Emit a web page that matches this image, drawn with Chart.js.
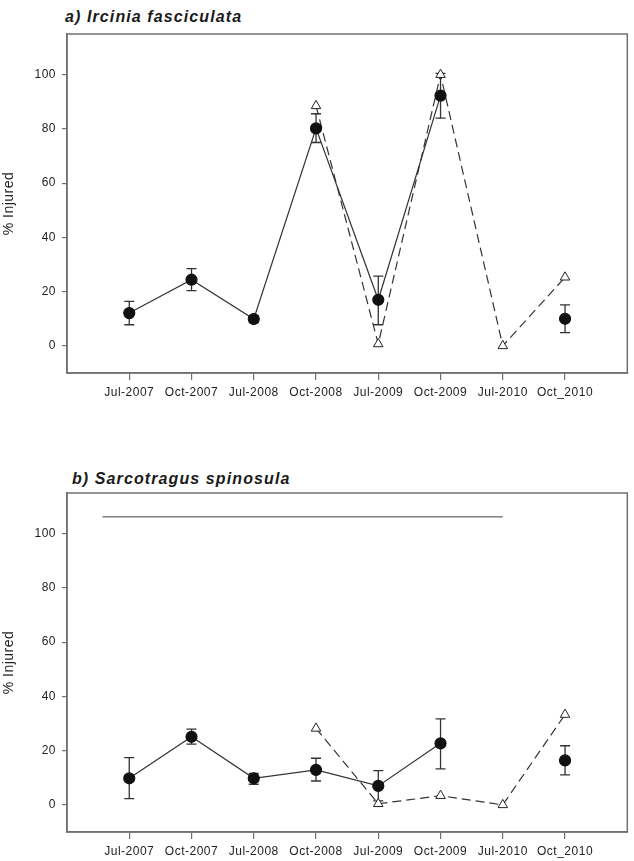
<!DOCTYPE html>
<html>
<head>
<meta charset="utf-8">
<script src="https://cdn.jsdelivr.net/npm/chart.js@4.4.0/dist/chart.umd.min.js"></script>
<style>
    body { margin: 0; background: #fff; width: 634px; height: 861px; position: relative; overflow: hidden;
           font-family: 'Liberation Sans', Arial, sans-serif; }
    .title { position: absolute; font-size: 16px; font-weight: bold; font-style: italic;
             letter-spacing: 1.1px; color: #1a1a1a; line-height: 18px; }
    .panel { position: absolute; left: 0; width: 634px; }
</style>
</head>
<body>
<div class="title" style="top:8px; left:65px">a) Ircinia fasciculata</div>
<div class="panel" style="top:0; height:430px"><canvas id="chartA"></canvas></div>
<div class="title" style="top:470px; left:72px">b) Sarcotragus spinosula</div>
<div class="panel" style="top:458px; height:403px"><canvas id="chartB"></canvas></div>

<script>
// Sampling dates (x categories)
const dates = ['Jul-2007', 'Oct-2007', 'Jul-2008', 'Oct-2008', 'Jul-2009', 'Oct-2009', 'Jul-2010', 'Oct_2010'];
const yTicks = [0, 20, 40, 60, 80, 100];

// a) Ircinia fasciculata
const irciniaMean = [12.1, 24.4, 9.9, 80.2, 17.0, 92.3, null, 10.0];
const irciniaLow  = [7.8, 20.4, 8.6, 75.0, 7.8, 84.0, null, 4.9];
const irciniaHigh = [16.4, 28.5, 11.1, 85.6, 25.7, 100.5, null, 15.1];
const irciniaTri  = [null, null, null, 88.5, 0.7, 100.0, 0.0, 25.3];

// b) Sarcotragus spinosula
const sarcoMean = [9.8, 25.1, 9.8, 12.9, 7.0, 22.7, null, 16.4];
const sarcoLow  = [2.3, 22.4, 7.6, 8.8, 1.5, 13.3, null, 11.1];
const sarcoHigh = [17.4, 27.9, 11.6, 17.2, 12.6, 31.7, null, 21.8];
const sarcoTri  = [null, null, null, 28.2, 0.4, 3.4, 0.0, 33.3];
const sarcoRefX = [-0.43, 6];
const sarcoRefY = [106.2, 106.2];

const AXIS_GREY = '#707070';
const INK = '#222';
const FONT = "'Liberation Sans', Arial, sans-serif";

function toPoints(values) {
    return values.map((v, i) => ({ x: i, y: v }));
}

// Slightly spaced lettering like the original figure
const spacing = {
    id: 'spacing',
    beforeDraw(chart) { chart.ctx.letterSpacing = '0.5px'; }
};

// Error bars drawn from the dataset values through the chart scales
const errorBars = {
    id: 'errorBars',
    beforeDatasetsDraw(chart, args, opts) {
        const { ctx, scales: { x, y } } = chart;
        ctx.save();
        ctx.strokeStyle = '#333';
        ctx.lineWidth = 1.3;
        opts.low.forEach((lo, i) => {
            if (lo == null) return;
            const px = x.getPixelForValue(i);
            const top = y.getPixelForValue(opts.high[i]);
            const bot = y.getPixelForValue(lo);
            ctx.beginPath();
            ctx.moveTo(px, top); ctx.lineTo(px, bot);
            ctx.moveTo(px - 5, top); ctx.lineTo(px + 5, top);
            ctx.moveTo(px - 5, bot); ctx.lineTo(px + 5, bot);
            ctx.stroke();
        });
        ctx.restore();
    }
};

// Box round the plot area
const frame = {
    id: 'frame',
    afterDraw(chart) {
        const { ctx, chartArea: a } = chart;
        ctx.save();
        ctx.strokeStyle = AXIS_GREY;
        ctx.lineWidth = 1.5;
        ctx.strokeRect(a.left, a.top, a.right - a.left, a.bottom - a.top);
        ctx.restore();
    }
};

function buildChart(canvasId, mean, low, high, tri, extra, layout) {
    const datasets = [
        {
            data: toPoints(mean),
            borderColor: '#333',
            borderWidth: 1.2,
            pointStyle: 'circle',
            pointRadius: 5.5,
            pointBackgroundColor: '#111',
            pointBorderColor: '#111',
            spanGaps: false,
            tension: 0
        },
        {
            data: toPoints(tri),
            borderColor: '#333',
            borderWidth: 1.2,
            borderDash: [9, 5],
            pointStyle: 'triangle',
            pointRadius: 5.5,
            pointBackgroundColor: '#fff',
            pointBorderColor: '#222',
            pointBorderWidth: 1,
            spanGaps: false,
            tension: 0
        }
    ];
    if (extra) datasets.push(extra);

    return new Chart(document.getElementById(canvasId), {
        type: 'line',
        data: { datasets: datasets },
        options: {
            responsive: true,
            maintainAspectRatio: false,
            animation: false,
            layout: { padding: layout.padding },
            plugins: {
                legend: { display: false },
                tooltip: { enabled: false },
                errorBars: { low: low, high: high }
            },
            scales: {
                x: {
                    type: 'linear',
                    min: -1,
                    max: 8,
                    afterBuildTicks: (s) => { s.ticks = dates.map((d, i) => ({ value: i })); },
                    afterFit: (s) => { s.height = layout.xHeight; },
                    grid: { drawOnChartArea: false, tickLength: 7, color: AXIS_GREY, lineWidth: 1.2 },
                    border: { color: AXIS_GREY, width: 1.5 },
                    ticks: {
                        color: INK,
                        padding: 5,
                        maxRotation: 0,
                        autoSkip: false,
                        font: { family: FONT, size: 12 },
                        callback: (v) => dates[v] || ''
                    }
                },
                y: {
                    min: -10,
                    max: 115,
                    afterBuildTicks: (s) => { s.ticks = yTicks.map(v => ({ value: v })); },
                    afterFit: (s) => { s.width = 67; },
                    grid: { drawOnChartArea: false, tickLength: 5, color: AXIS_GREY, lineWidth: 1.2 },
                    border: { color: AXIS_GREY, width: 1.5 },
                    ticks: {
                        color: INK,
                        padding: 6,
                        font: { family: FONT, size: 12 }
                    },
                    title: {
                        display: true,
                        text: '% Injured',
                        color: INK,
                        padding: { top: 1, bottom: 0 },
                        font: { family: FONT, size: 14 }
                    }
                }
            }
        },
        plugins: [spacing, errorBars, frame]
    });
}

buildChart('chartA', irciniaMean, irciniaLow, irciniaHigh, irciniaTri, null,
    { padding: { top: 34, right: 6, left: 0, bottom: 0 }, xHeight: 57 });

buildChart('chartB', sarcoMean, sarcoLow, sarcoHigh, sarcoTri, {
        data: sarcoRefX.map((x, i) => ({ x: x, y: sarcoRefY[i] })),
        borderColor: '#444',
        borderWidth: 1,
        pointRadius: 0
    },
    { padding: { top: 35, right: 5, left: 0, bottom: 0 }, xHeight: 29 });
</script>
</body>
</html>
